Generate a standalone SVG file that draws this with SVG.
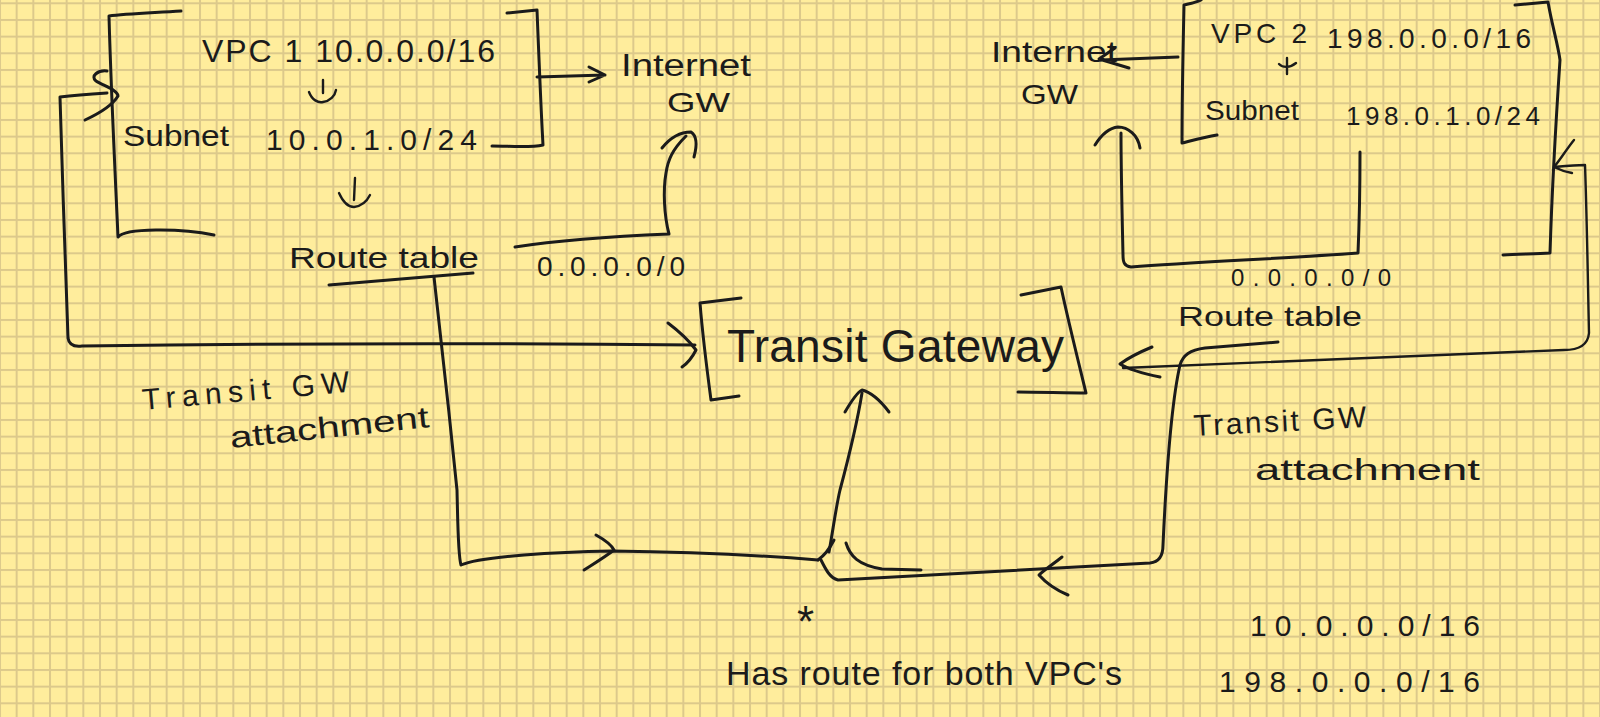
<svg xmlns="http://www.w3.org/2000/svg" width="1600" height="717" viewBox="0 0 1600 717">
<defs>
<pattern id="grid" x="-1" y="2.3" width="16.667" height="16.667" patternUnits="userSpaceOnUse">
<rect x="0" y="0" width="16.667" height="2" fill="#dcc98b"/>
<rect x="0" y="0" width="2" height="16.667" fill="#dcc98b"/>
</pattern>
<style>
.ink{fill:none;stroke:#1b1b1b;stroke-width:3;stroke-linecap:round;stroke-linejoin:round}
.thin{stroke-width:2.4}
.t{font-family:"Liberation Sans","DejaVu Sans",sans-serif;fill:#1b1b1b}
</style>
</defs>
<rect width="1600" height="717" fill="#ffed9c"/>
<rect width="1600" height="717" fill="url(#grid)"/>

<g id="vpc1">
<path class="ink" d="M181,11 C150,13 125,14 109,16 C111,90 115,170 118,237 C125,228 180,228 214,235"/>
<path class="ink" d="M507,13 L537,10 C539,60 541,110 543,145 C530,148 510,146 492,146"/>
<text class="t" x="202" y="62" font-size="32" textLength="293" lengthAdjust="spacing">VPC 1 10.0.0.0/16</text>
<path class="ink thin" d="M323,80 L323,93 M309,92 C312,100 318,103 323,102 C330,101 335,96 336,90"/>
<text class="t" x="123" y="146" font-size="30" textLength="106" lengthAdjust="spacingAndGlyphs">Subnet</text>
<text class="t" x="266" y="150" font-size="30" textLength="211" lengthAdjust="spacing">10.0.1.0/24</text>
<path class="ink thin" d="M355,178 L354,200 M339,193 C343,202 348,207 354,207 C362,206 367,201 370,195"/>
</g>

<g id="route-table-1">
<text class="t" x="289" y="268" font-size="30" textLength="190" lengthAdjust="spacingAndGlyphs">Route table</text>
<path class="ink" d="M329,285 L473,273"/>
<text class="t" x="537" y="276" font-size="28" textLength="148" lengthAdjust="spacing">0.0.0.0/0</text>
</g>

<g id="igw1">
<text class="t" x="621" y="76" font-size="31" textLength="130" lengthAdjust="spacingAndGlyphs">Internet</text>
<text class="t" x="667" y="112" font-size="28" textLength="63" lengthAdjust="spacingAndGlyphs">GW</text>
</g>

<g id="tgw">
<path class="ink" d="M741,298 L700,303 C703,340 707,370 711,400 L739,396"/>
<path class="ink" d="M1021,295 L1061,287 C1068,320 1078,360 1086,393 C1065,393 1040,392 1018,392"/>
<text class="t" x="727" y="362" font-size="46" textLength="337" lengthAdjust="spacing">Transit Gateway</text>
</g>

<g id="vpc2">
<path class="ink" d="M1201,0 C1195,3 1188,4 1184,5 C1183,50 1182,100 1182,143 C1194,140 1205,137 1217,135"/>
<path class="ink" d="M1515,5 L1548,2 C1552,25 1558,45 1560,60 C1556,120 1552,190 1550,253 C1535,254 1518,254 1503,255"/>
<text class="t" x="1211" y="43" font-size="28" textLength="96" lengthAdjust="spacing">VPC 2</text>
<text class="t" x="1327" y="48" font-size="28" textLength="204" lengthAdjust="spacing">198.0.0.0/16</text>
<path class="ink thin" d="M1287,58 L1287,74 M1279,64 C1283,68 1290,68 1296,63"/>
<text class="t" x="1205" y="120" font-size="28" textLength="94" lengthAdjust="spacingAndGlyphs">Subnet</text>
<text class="t" x="1346" y="125" font-size="26" textLength="194" lengthAdjust="spacing">198.0.1.0/24</text>
</g>

<g id="igw2">
<text class="t" x="991" y="62" font-size="30" textLength="126" lengthAdjust="spacingAndGlyphs">Internet</text>
<text class="t" x="1021" y="104" font-size="28" textLength="57" lengthAdjust="spacingAndGlyphs">GW</text>
</g>

<g id="route-table-2">
<text class="t" x="1178" y="326" font-size="28" textLength="184" lengthAdjust="spacingAndGlyphs">Route table</text>
<text class="t" x="1231" y="286" font-size="24" textLength="160" lengthAdjust="spacing">0.0.0.0/0</text>
</g>

<g id="attachment-labels">
<text class="t" font-size="30" transform="rotate(-5 143 410)" x="143" y="410" textLength="208" lengthAdjust="spacing">Transit GW</text>
<text class="t" font-size="30" transform="rotate(-6 231 448)" x="231" y="448" textLength="200" lengthAdjust="spacingAndGlyphs">attachment</text>
<text class="t" font-size="30" transform="rotate(-3 1194 436)" x="1194" y="436" textLength="173" lengthAdjust="spacing">Transit GW</text>
<text class="t" font-size="30" x="1255" y="480" textLength="225" lengthAdjust="spacingAndGlyphs">attachment</text>
</g>

<g id="note">
<text class="t" x="797" y="637" font-size="44">*</text>
<text class="t" x="726" y="685" font-size="34" textLength="396" lengthAdjust="spacing">Has route for both VPC's</text>
<text class="t" x="1250" y="636" font-size="30" textLength="230" lengthAdjust="spacing">10.0.0.0/16</text>
<text class="t" x="1219" y="692" font-size="30" textLength="261" lengthAdjust="spacing">198.0.0.0/16</text>
</g>

<g id="connectors">
<path class="ink" d="M537,77 L605,75 M589,67 L605,75 L589,82"/>
<path class="ink" d="M515,247 C560,240 620,236 669,234 C664,215 663,190 666,173 C668,160 672,150 686,136"/>
<path class="ink" d="M662,148 C670,138 680,132 691,132 C697,136 697,146 694,157"/>
<path class="ink" d="M107,93 C90,94 75,95 60,97 C62,170 66,280 68,338 C69,345 74,347 82,346 C300,343 500,343 695,345"/>
<path class="ink" d="M107,71 C98,70 90,76 96,81 C104,86 118,90 118,96 C112,106 98,114 85,120"/>
<path class="ink" d="M668,323 C680,332 690,342 696,350 C692,358 688,363 682,367"/>
<path class="ink" d="M434,277 C440,330 450,420 457,490 C458,530 458,555 461,565 C480,556 560,552 612,551 C700,552 770,556 818,560"/>
<path class="ink" d="M596,535 C605,540 612,546 614,550 C605,557 595,563 584,570"/>
<path class="ink" d="M829,552 C833,530 836,507 840,490 C848,460 856,430 862,393"/>
<path class="ink" d="M845,412 C852,400 858,392 862,390 C870,392 880,400 889,412"/>
<path class="ink" d="M818,560 C825,555 830,548 834,540"/>
<path class="ink" d="M846,543 C850,556 858,565 882,569 L921,570"/>
<path class="ink" d="M821,560 C826,570 830,578 838,580 L1150,563 C1160,562 1163,555 1163,545 C1166,480 1172,400 1180,365 C1183,355 1190,350 1205,348 L1278,342"/>
<path class="ink" d="M1062,557 C1052,565 1044,570 1039,575 C1046,583 1056,590 1068,595"/>
<path class="ink" d="M1178,57 L1101,60 M1115,48 L1099,59 L1129,68"/>
<path class="ink" d="M1360,152 C1360,190 1359,230 1358,253 C1290,258 1200,262 1131,267 C1124,266 1123,262 1123,255 C1122,210 1121,170 1121,133"/>
<path class="ink" d="M1095,145 C1100,137 1108,128 1118,127 C1128,127 1138,135 1140,148"/>
<path class="ink thin" d="M1574,140 C1566,150 1560,160 1554,167 C1560,170 1566,172 1572,173"/>
<path class="ink thin" d="M1554,167 C1565,166 1575,165 1585,165 C1587,220 1588,290 1589,333 C1588,345 1578,350 1564,350 L1123,368"/>
<path class="ink" d="M1152,347 C1140,352 1128,358 1120,364 C1130,370 1145,374 1160,377"/>
</g>
</svg>
